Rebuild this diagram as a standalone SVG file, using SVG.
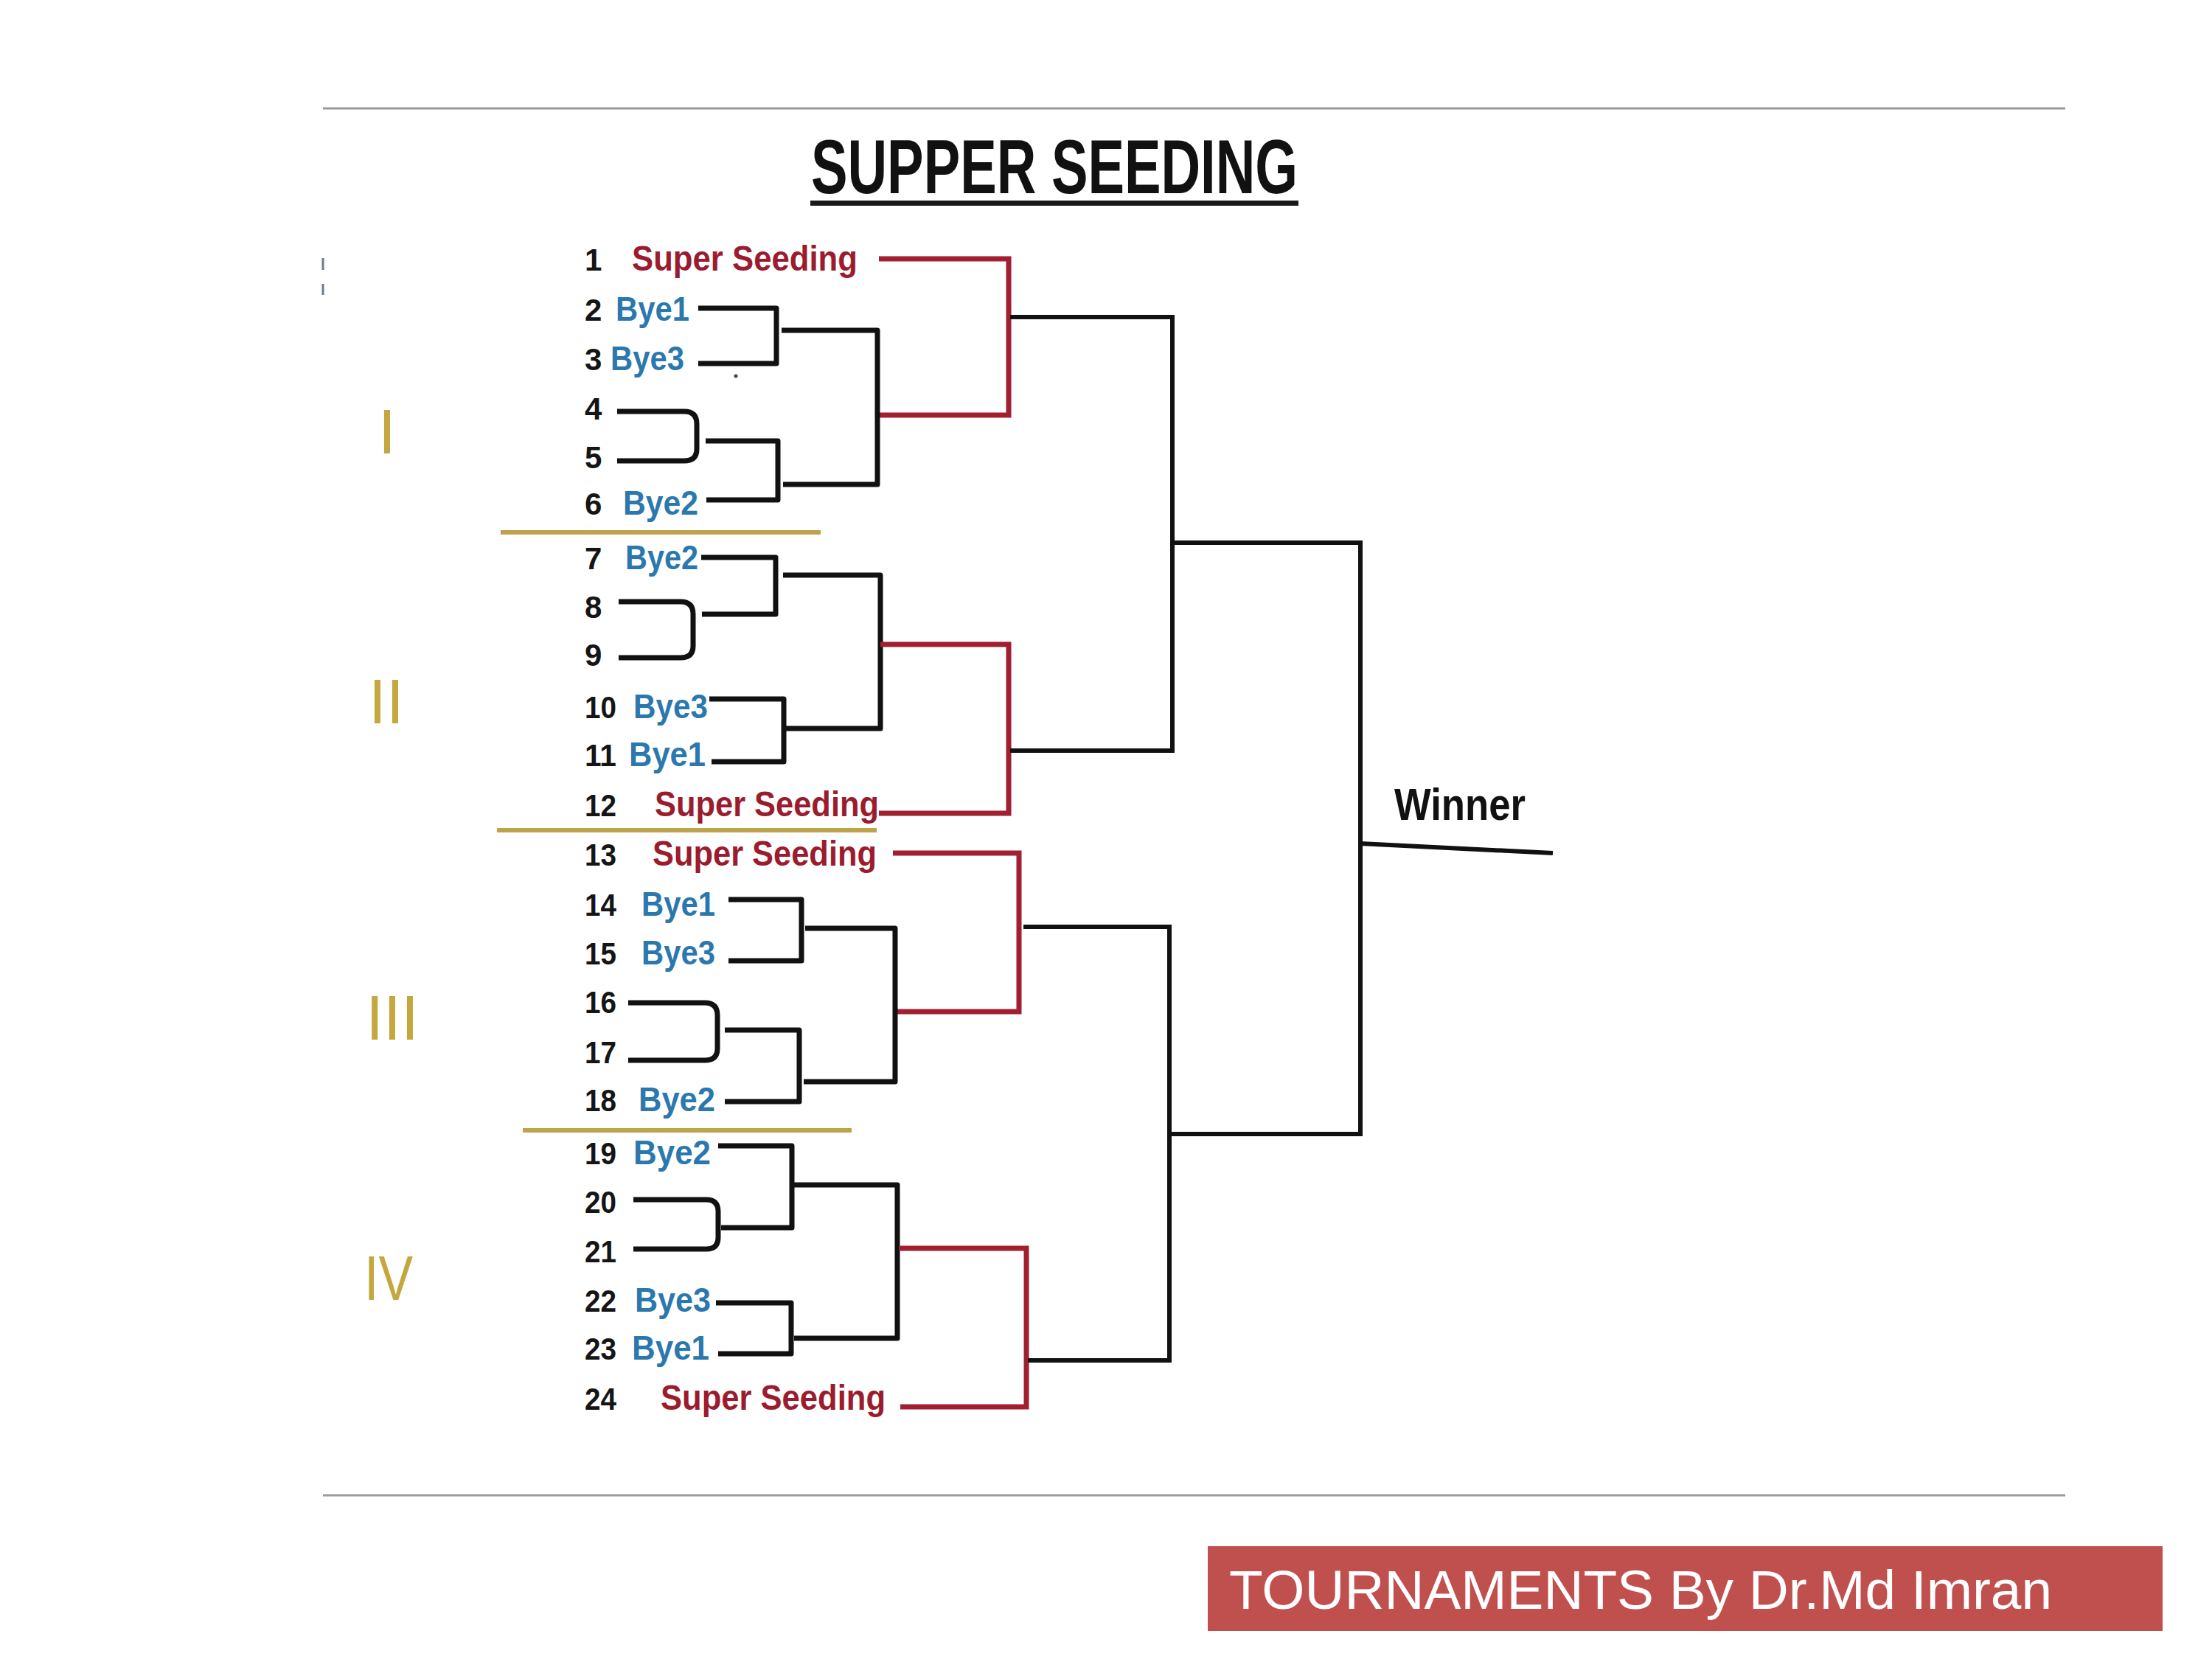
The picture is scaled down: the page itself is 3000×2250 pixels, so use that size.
<svg xmlns="http://www.w3.org/2000/svg" width="3000" height="2250" viewBox="0 0 3000 2250">
<style>
.num{font-family:"Liberation Sans",Arial,sans-serif;font-weight:bold;font-size:42px;fill:#151515}
.ss{font-family:"Liberation Sans",Arial,sans-serif;font-weight:bold;font-size:48px;fill:#9b1c2e}
.bye{font-family:"Liberation Sans",Arial,sans-serif;font-weight:bold;font-size:47px;fill:#2a78ae}
.rom{font-family:"Liberation Sans",Arial,sans-serif;font-size:86px;fill:#c4a73e;text-anchor:middle}
.blk{fill:none;stroke:#111;stroke-width:7;stroke-linejoin:round;stroke-linecap:butt}
.out{fill:none;stroke:#111;stroke-width:6;stroke-linejoin:miter}
.red{fill:none;stroke:#a01f30;stroke-width:7;stroke-linejoin:miter}
.gold{stroke:#bda44a;stroke-width:6}
.rule{stroke:#9a9a9a;stroke-width:3}
</style>
<rect width="3000" height="2250" fill="#ffffff"/>
<g id="rules">
<line class="rule" x1="438" y1="147" x2="2801" y2="147"/>
<line class="rule" x1="438" y1="2028" x2="2801" y2="2028"/>
<line x1="438" y1="350" x2="438" y2="366" stroke="#6d7c8c" stroke-width="3"/>
<line x1="438" y1="385" x2="438" y2="400" stroke="#6d7c8c" stroke-width="3"/>
</g>
<g id="title">
<text x="1100" y="262" font-family="'Liberation Sans',Arial,sans-serif" font-weight="bold" font-size="104" fill="#111" textLength="660" lengthAdjust="spacingAndGlyphs">SUPPER SEEDING</text>
<rect x="1099" y="272" width="662" height="7" fill="#1a1a1a"/>
</g>
<g id="groups">
<text class="rom" x="525" y="615">I</text>
<text class="rom" x="524" y="981">II</text>
<text class="rom" x="532" y="1410">III</text>
<text class="rom" x="527" y="1763" textLength="66" lengthAdjust="spacingAndGlyphs">IV</text>
<line class="gold" x1="679" y1="722" x2="1113" y2="722"/>
<line class="gold" x1="674" y1="1126" x2="1189" y2="1126"/>
<line class="gold" x1="709" y1="1533" x2="1155" y2="1533"/>
</g>
<g id="entry1"><text class="num" x="793" y="367">1</text><text class="ss" x="857" y="367" textLength="306" lengthAdjust="spacingAndGlyphs">Super Seeding</text></g>
<g id="entry2"><text class="num" x="793" y="435">2</text><text class="bye" x="835" y="435" textLength="100" lengthAdjust="spacingAndGlyphs">Bye1</text></g>
<g id="entry3"><text class="num" x="793" y="502">3</text><text class="bye" x="828" y="502" textLength="100" lengthAdjust="spacingAndGlyphs">Bye3</text></g>
<g id="entry4"><text class="num" x="793" y="569">4</text></g>
<g id="entry5"><text class="num" x="793" y="635">5</text></g>
<g id="entry6"><text class="num" x="793" y="698">6</text><text class="bye" x="845" y="698" textLength="102" lengthAdjust="spacingAndGlyphs">Bye2</text></g>
<g id="entry7"><text class="num" x="793" y="772">7</text><text class="bye" x="848" y="772" textLength="99" lengthAdjust="spacingAndGlyphs">Bye2</text></g>
<g id="entry8"><text class="num" x="793" y="838">8</text></g>
<g id="entry9"><text class="num" x="793" y="903">9</text></g>
<g id="entry10"><text class="num" x="793" y="974" textLength="43" lengthAdjust="spacingAndGlyphs">10</text><text class="bye" x="859" y="974" textLength="101" lengthAdjust="spacingAndGlyphs">Bye3</text></g>
<g id="entry11"><text class="num" x="793" y="1039" textLength="43" lengthAdjust="spacingAndGlyphs">11</text><text class="bye" x="853" y="1039" textLength="104" lengthAdjust="spacingAndGlyphs">Bye1</text></g>
<g id="entry12"><text class="num" x="793" y="1107" textLength="43" lengthAdjust="spacingAndGlyphs">12</text><text class="ss" x="888" y="1107" textLength="304" lengthAdjust="spacingAndGlyphs">Super Seeding</text></g>
<g id="entry13"><text class="num" x="793" y="1174" textLength="43" lengthAdjust="spacingAndGlyphs">13</text><text class="ss" x="885" y="1174" textLength="304" lengthAdjust="spacingAndGlyphs">Super Seeding</text></g>
<g id="entry14"><text class="num" x="793" y="1242" textLength="43" lengthAdjust="spacingAndGlyphs">14</text><text class="bye" x="870" y="1242" textLength="100" lengthAdjust="spacingAndGlyphs">Bye1</text></g>
<g id="entry15"><text class="num" x="793" y="1308" textLength="43" lengthAdjust="spacingAndGlyphs">15</text><text class="bye" x="870" y="1308" textLength="100" lengthAdjust="spacingAndGlyphs">Bye3</text></g>
<g id="entry16"><text class="num" x="793" y="1374" textLength="43" lengthAdjust="spacingAndGlyphs">16</text></g>
<g id="entry17"><text class="num" x="793" y="1442" textLength="43" lengthAdjust="spacingAndGlyphs">17</text></g>
<g id="entry18"><text class="num" x="793" y="1507" textLength="43" lengthAdjust="spacingAndGlyphs">18</text><text class="bye" x="866" y="1507" textLength="104" lengthAdjust="spacingAndGlyphs">Bye2</text></g>
<g id="entry19"><text class="num" x="793" y="1579" textLength="43" lengthAdjust="spacingAndGlyphs">19</text><text class="bye" x="859" y="1579" textLength="105" lengthAdjust="spacingAndGlyphs">Bye2</text></g>
<g id="entry20"><text class="num" x="793" y="1645" textLength="43" lengthAdjust="spacingAndGlyphs">20</text></g>
<g id="entry21"><text class="num" x="793" y="1712" textLength="43" lengthAdjust="spacingAndGlyphs">21</text></g>
<g id="entry22"><text class="num" x="793" y="1779" textLength="43" lengthAdjust="spacingAndGlyphs">22</text><text class="bye" x="861" y="1779" textLength="103" lengthAdjust="spacingAndGlyphs">Bye3</text></g>
<g id="entry23"><text class="num" x="793" y="1844" textLength="43" lengthAdjust="spacingAndGlyphs">23</text><text class="bye" x="857" y="1844" textLength="105" lengthAdjust="spacingAndGlyphs">Bye1</text></g>
<g id="entry24"><text class="num" x="793" y="1912" textLength="43" lengthAdjust="spacingAndGlyphs">24</text><text class="ss" x="896" y="1912" textLength="305" lengthAdjust="spacingAndGlyphs">Super Seeding</text></g>
<g id="winner"><text x="1891" y="1112" font-family="'Liberation Sans',Arial,sans-serif" font-weight="bold" font-size="62" fill="#111" textLength="178" lengthAdjust="spacingAndGlyphs">Winner</text></g>
<g id="connectors">
<path class="red" d="M1192,351 H1368 V563 H1193"/>
<path class="blk" d="M947,418 H1053 V493 H947"/>
<path class="blk" d="M837,558 H928 Q945,558 945,575 V609 Q945,625 928,625 H837"/>
<path class="blk" d="M957,598 H1055 V678 H958"/>
<path class="blk" d="M1060,448 H1190 V657 H1062"/>
<path class="blk" d="M951,756 H1052 V833 H952"/>
<path class="blk" d="M839,816 H923 Q940,816 940,833 V876 Q940,892 923,892 H839"/>
<path class="blk" d="M1062,780 H1194 V988 H1066"/>
<path class="blk" d="M962,948 H1063 V1033 H965"/>
<path class="red" d="M1194,874 H1368 V1103 H1192"/>
<path class="red" d="M1211,1157 H1382 V1372 H1215"/>
<path class="blk" d="M988,1220 H1087 V1303 H988"/>
<path class="blk" d="M1092,1259 H1214 V1467 H1090"/>
<path class="blk" d="M852,1360 H956 Q973,1360 973,1377 V1422 Q973,1438 956,1438 H852"/>
<path class="blk" d="M983,1397 H1084 V1494 H983"/>
<path class="blk" d="M974,1554 H1074 V1665 H978"/>
<path class="blk" d="M859,1627 H958 Q974,1627 974,1643 V1678 Q974,1694 958,1694 H859"/>
<path class="blk" d="M1077,1607 H1217 V1815 H1077"/>
<path class="blk" d="M971,1767 H1073 V1836 H974"/>
<path class="red" d="M1219,1693 H1392 V1908 H1221"/>
<path class="out" d="M1370,430 H1590 V1018 H1370"/>
<path class="out" d="M1388,1257 H1586 V1845 H1394"/>
<path class="out" d="M1590,736 H1845 V1538 H1588"/>
<path class="out" d="M1845,1144 L2106,1157" stroke-width="7"/>
<circle cx="998" cy="510" r="2.5" fill="#444"/>
</g>
<g id="footer">
<rect x="1638" y="2097" width="1295" height="115" fill="#c0504d"/>
<text x="1667" y="2182" font-family="'Liberation Sans',Arial,sans-serif" font-size="74" fill="#ffffff" textLength="1116" lengthAdjust="spacingAndGlyphs">TOURNAMENTS By Dr.Md Imran</text>
</g>
</svg>
